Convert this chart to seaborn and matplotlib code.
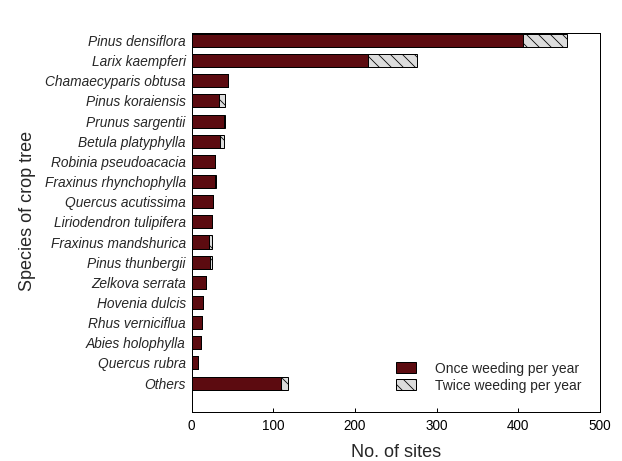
import matplotlib
matplotlib.use("Agg")
import matplotlib.pyplot as plt
import seaborn as sns
import pandas as pd

species = [
    "Pinus densiflora", "Larix kaempferi", "Chamaecyparis obtusa",
    "Pinus koraiensis", "Prunus sargentii", "Betula platyphylla",
    "Robinia pseudoacacia", "Fraxinus rhynchophylla", "Quercus acutissima",
    "Liriodendron tulipifera", "Fraxinus mandshurica", "Pinus thunbergii",
    "Zelkova serrata", "Hovenia dulcis", "Rhus verniciflua",
    "Abies holophylla", "Quercus rubra", "Others",
]
once_per_year = [406, 216, 45, 34, 39, 35, 29, 29, 26, 25, 21, 23, 17, 14, 13, 11, 8, 109]
twice_per_year = [54, 60, 0, 7, 2, 4, 0, 1, 0, 0, 4, 2, 0, 0, 0, 0, 0, 9]
x_ticks = [0, 100, 200, 300, 400, 500]

df = pd.DataFrame({
    "species": species,
    "once": once_per_year,
    "total": [a + b for a, b in zip(once_per_year, twice_per_year)],
})

sns.set_style("ticks")
plt.rcParams["font.family"] = ["Liberation Sans", "DejaVu Sans"]
plt.rcParams["hatch.linewidth"] = 0.8

DARK_RED = "#5c0b10"
LIGHT_GREY = "#dcdcdc"

fig = plt.figure(figsize=(622 / 72, 461 / 72), dpi=72)
ax = fig.add_axes([0.3082, 0.1069, 0.6564, 0.8215])

# Stacked bars: the total (hatched) first, the once-a-year part on top
sns.barplot(data=df, x="total", y="species", orient="h", color=LIGHT_GREY,
            width=0.65, edgecolor="black", linewidth=1.0, saturation=1,
            ax=ax, label="Twice weeding per year")
for p in ax.patches:
    p.set_hatch("\\\\")
sns.barplot(data=df, x="once", y="species", orient="h", color=DARK_RED,
            width=0.65, edgecolor="black", linewidth=1.0, saturation=1,
            ax=ax, label="Once weeding per year")

ax.set_xlim(0, 500)
ax.set_ylim(len(species) - 1 + 1.42, -0.37)
ax.set_xticks(x_ticks)
ax.tick_params(axis="x", direction="in", length=4, width=1, pad=7,
               labelsize=13.5, colors="black")
ax.tick_params(axis="y", length=0, pad=6, labelsize=13.8)
for lbl in ax.get_yticklabels():
    lbl.set_fontstyle("italic")

for side in ["top", "right", "bottom", "left"]:
    ax.spines[side].set_visible(True)
    ax.spines[side].set_linewidth(1.0)
    ax.spines[side].set_color("black")

ax.set_xlabel("No. of sites", fontsize=18, labelpad=11)
ax.set_ylabel("Species of crop tree", fontsize=18)
ax.yaxis.set_label_coords(-0.382, 0.53)

handles, labels = ax.get_legend_handles_labels()
order = [labels.index("Once weeding per year"), labels.index("Twice weeding per year")]
ax.legend([handles[i] for i in order], [labels[i] for i in order],
          loc="lower right", bbox_to_anchor=(0.969, 0.036), frameon=False,
          fontsize=13.9, handlelength=1.45, handleheight=0.85,
          handletextpad=1.35, labelspacing=0.2, borderaxespad=0)

fig.savefig("out.png", dpi=72)
